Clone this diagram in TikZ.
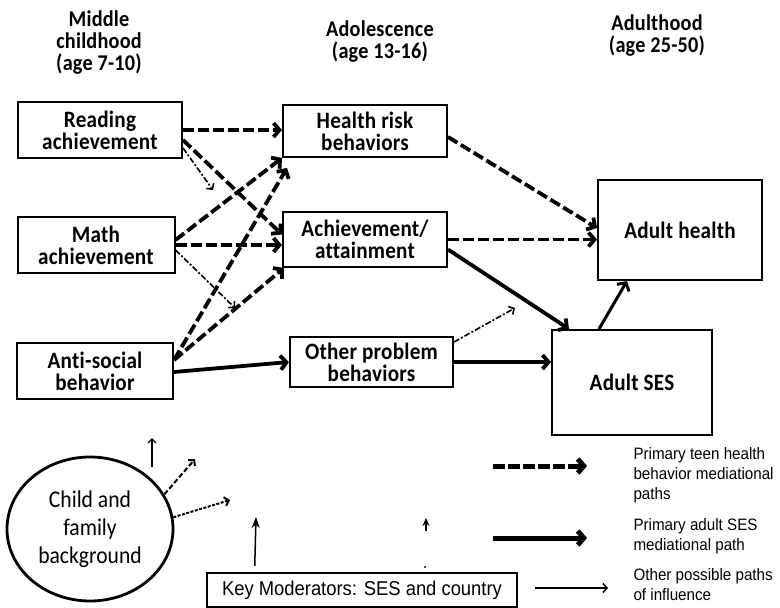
\documentclass[tikz,border=0pt]{standalone}
\usepackage{fontspec}
\setmainfont{Carlito}
\newfontfamily\boxfont[FakeStretch=0.9,LetterSpace=1,Ligatures=NoCommon]{Carlito}
\newfontfamily\bgfont[FakeStretch=0.9]{Carlito}
\newfontfamily\legendfont[FakeStretch=0.92]{Liberation Sans}
\usetikzlibrary{arrows.meta,shapes.geometric}

\begin{document}
\begin{tikzpicture}[
            x=1pt, y=-1pt,
            box/.style={rectangle, draw, line width=2pt, align=center, inner sep=0pt, font=\boxfont\bfseries\fontsize{23.5}{22}\selectfont},
            stage/.style={align=center, font=\boxfont\bfseries\fontsize{22.5}{22}\selectfont},
            teenpath/.style={-{Straight Barb[length=6pt,width=14pt]}, line width=3.8pt, dash pattern=on 11pt off 4pt},
            sespath/.style={-{Straight Barb[length=6pt,width=14pt]}, line width=3.8pt},
            otherpath/.style={-{Straight Barb[length=4pt,width=9pt]}, line width=1.6pt, dash pattern=on 6pt off 2pt on 2pt off 2pt},
            legendtext/.style={anchor=west, align=left, font=\legendfont\fontsize{16.5}{20}\selectfont}
            ]
            \useasboundingbox (0,0) rectangle (780,608);

            % Stages
            \node[stage] (middle) at (99,43) {Middle\\childhood\\(age 7-10)};
            \node[stage] (teen) at (380,42) {Adolescence\\(age 13-16)};
            \node[stage] (adult) at (657,36) {Adulthood\\(age 25-50)};

            % Middle childhood
            \node[box, minimum width=164pt, minimum height=56pt] (reading) at (100,130) {Reading\\achievement};
            \node[box, minimum width=157pt, minimum height=56pt] (math) at (96,245) {Math\\achievement};
            \node[box, minimum width=156pt, minimum height=56pt] (anti) at (95,371) {Anti-social\\behavior};

            % Adolescence
            \node[box, minimum width=164pt, minimum height=52pt] (health) at (365,131) {Health risk\\behaviors};
            \node[box, minimum width=164pt, minimum height=55pt] (achieve) at (365,239.5) {Achievement/\\attainment};
            \node[box, minimum width=163pt, minimum height=50pt] (other) at (371.5,362) {Other problem\\behaviors};

            % Adulthood
            \node[box, minimum width=164pt, minimum height=100pt] (adulthealth) at (680,230) {Adult health};
            \node[box, minimum width=160pt, minimum height=105pt] (ses) at (632,382.5) {Adult SES};

            % Background and moderators
            \node[ellipse, draw, line width=2.8pt, minimum width=166pt, minimum height=144pt, inner sep=0pt, align=center, font=\bgfont\fontsize{24}{28}\selectfont] (bg) at (90,529) {Child and\\family\\background};
            \node[rectangle, draw, line width=2.5pt, minimum width=310pt, minimum height=34pt, inner sep=0pt, font=\legendfont\fontsize{20}{20}\selectfont] (keymod) at (362,590) {Key Moderators: SES and country};

            % Free ends
            \coordinate (rfree) at (213,190);
            \coordinate (mfree) at (235,308);
            \coordinate (ofree) at (515,308);
            \coordinate (bgup0) at (152,467);
            \coordinate (bgup1) at (152,438);
            \coordinate (bgfree1) at (195,459);
            \coordinate (bgfree2) at (230,500);
            \coordinate (kmfree) at (256,517);
            \coordinate (kmsmall0) at (426,531);
            \coordinate (kmsmall1) at (426,518);

            % Arrows into adolescence
            \draw[teenpath] (reading.east) -- (reading.east -| health.west);
            \draw[teenpath] ([yshift=-10pt]reading.east) -- ([yshift=5pt]achieve.west);
            \draw[otherpath] ([yshift=-18pt]reading.east) -- (rfree);
            \draw[teenpath] ([yshift=5pt]math.east) -- (health.south west);
            \draw[teenpath] (math.east) -- (math.east -| achieve.west);
            \draw[otherpath] ([yshift=-5pt]math.east) -- (mfree);
            \draw[teenpath] ([yshift=11pt]anti.east) -- ([xshift=5pt,yshift=-10pt]health.south west);
            \draw[teenpath] ([yshift=11pt]anti.east) -- ([xshift=2pt]achieve.south west);
            \draw[sespath] ([yshift=-1pt]anti.east) -- (other.west);

            % Arrows into adulthood
            \draw[teenpath] ([yshift=-6pt]health.east) -- ([yshift=2pt]adulthealth.west);
            \draw[teenpath] (achieve.east) -- (achieve.east -| adulthealth.west);
            \draw[sespath] ([yshift=-10pt]achieve.east) -- ([xshift=18pt]ses.north west);
            \draw[otherpath] ([yshift=20pt]other.east) -- (ofree);
            \draw[sespath] (other.east) -- (other.east -| ses.west);
            \draw[sespath, line width=3pt] ([xshift=48pt]ses.north west) -- ([xshift=30pt]adulthealth.south west);

            % Background and moderator arrows
            \draw[-{Straight Barb[length=4pt,width=8pt]}, line width=1.3pt] (bgup0) -- (bgup1);
            \draw[-{Straight Barb[length=4pt,width=9pt]}, line width=2pt, dash pattern=on 5pt off 2.5pt] (bg.25) -- (bgfree1);
            \draw[-{Straight Barb[length=4pt,width=9pt]}, line width=2pt, dash pattern=on 3pt off 1.5pt] (bg.8) -- (bgfree2);
            \draw[-{Stealth[length=11pt,width=8pt]}, line width=1.5pt] ([shift={(49pt,6pt)}]keymod.north west) -- (kmfree);
            \draw[-{Stealth[length=8pt,width=7pt]}, line width=1.5pt] (kmsmall0) -- (kmsmall1);
            \fill (425,567) circle (1.2pt);

            % Legend
            \coordinate (leg1a) at (493,466);
            \coordinate (leg1b) at (587,466);
            \coordinate (leg2a) at (493,538);
            \coordinate (leg2b) at (587,538);
            \coordinate (leg3a) at (535,588);
            \coordinate (leg3b) at (608,588);
            \draw[teenpath, line width=5pt, dash pattern=on 12pt off 3pt] (leg1a) -- (leg1b);
            \draw[sespath, line width=5pt] (leg2a) -- (leg2b);
            \draw[otherpath, dash pattern=on 25pt off 0pt, line width=1.6pt] (leg3a) -- (leg3b);
            \node[legendtext] (leg1text) at (630,475) {Primary teen health\\behavior mediational\\paths};
            \node[legendtext] (leg2text) at (630,536.5) {Primary adult SES\\mediational path};
            \node[legendtext] (leg3text) at (630,585) {Other possible paths\\of influence};

        \end{tikzpicture}
\end{document}
